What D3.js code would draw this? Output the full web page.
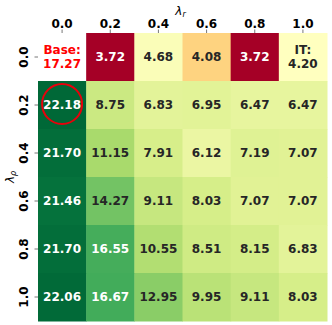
<!DOCTYPE html>
<html>
<head>
<meta charset="utf-8">
<script src="https://cdn.jsdelivr.net/npm/d3@7"></script>
<style>
  body { margin: 0; background: #fff; }
  svg { font-family: "DejaVu Sans", sans-serif; }
</style>
</head>
<body>
<div id="chart"></div>
<script>
const lambdaR = ["0.0", "0.2", "0.4", "0.6", "0.8", "1.0"];
const lambdaRho = ["0.0", "0.2", "0.4", "0.6", "0.8", "1.0"];
const row00 = [null, 3.72, 4.68, 4.08, 3.72, 4.20];
const row02 = [22.18, 8.75, 6.83, 6.95, 6.47, 6.47];
const row04 = [21.70, 11.15, 7.91, 6.12, 7.19, 7.07];
const row06 = [21.46, 14.27, 9.11, 8.03, 7.07, 7.07];
const row08 = [21.70, 16.55, 10.55, 8.51, 8.15, 6.83];
const row10 = [22.06, 16.67, 12.95, 9.95, 9.11, 8.03];
const rows = [row00, row02, row04, row06, row08, row10];
const baseValue = 17.27;
const itValue = 4.20;
const best = { row: 1, col: 0 };

const margin = { top: 33, right: 5, bottom: 4, left: 38 };
const width = 332 - margin.left - margin.right;
const height = 325 - margin.top - margin.bottom;

const x = d3.scaleBand().domain(lambdaR).range([0, width]);
const y = d3.scaleBand().domain(lambdaRho).range([0, height]);

// RdYlGn, two-slope norm centred on the IT score
const rdylgn = d3.piecewise(d3.interpolateRgb, ["#a50026", "#d73027", "#f46d43", "#fdae61", "#fee08b",
  "#ffffbf", "#d9ef8b", "#a6d96a", "#66bd63", "#1a9850", "#006837"]);
const all = rows.flat().filter(v => v != null);
const norm = d3.scaleLinear().domain([d3.min(all), itValue, d3.max(all)]).range([0, 0.5, 1]).clamp(true);
const color = v => rdylgn(norm(v));

function textColor(c) {
  const rgb = d3.rgb(c);
  const lin = v => { v /= 255; return v <= 0.03928 ? v / 12.92 : Math.pow((v + 0.055) / 1.055, 2.4); };
  const lum = 0.2126 * lin(rgb.r) + 0.7152 * lin(rgb.g) + 0.0722 * lin(rgb.b);
  return lum > 0.408 ? "#262626" : "#ffffff";
}

const cells = [];
rows.forEach((r, i) => r.forEach((v, j) => cells.push({ i, j, v })));

const svg = d3.select("#chart").append("svg")
    .attr("width", 332)
    .attr("height", 325)
  .append("g")
    .attr("transform", `translate(${margin.left}, ${margin.top})`);

svg.selectAll(".cell")
  .data(cells.filter(d => d.v != null))
  .join("rect")
    .attr("class", "cell")
    .attr("x", d => x(lambdaR[d.j]))
    .attr("y", d => y(lambdaRho[d.i]))
    .attr("width", x.bandwidth() + 0.5)
    .attr("height", y.bandwidth() + 0.5)
    .attr("fill", d => color(d.v));

const labels = svg.selectAll(".lab")
  .data(cells)
  .join("text")
    .attr("class", "lab")
    .attr("x", d => x(lambdaR[d.j]) + x.bandwidth() / 2)
    .attr("y", d => y(lambdaRho[d.i]) + y.bandwidth() / 2)
    .attr("text-anchor", "middle")
    .attr("font-size", 12)
    .attr("font-weight", "bold");

labels.each(function (d) {
  const t = d3.select(this);
  let lines;
  if (d.v == null) {
    lines = ["Base:", baseValue.toFixed(2)];
    t.attr("fill", "#ff0000");
  } else if (d.i === 0 && d.j === lambdaR.length - 1) {
    lines = ["IT:", d.v.toFixed(2)];
    t.attr("fill", textColor(color(d.v)));
  } else {
    lines = [d.v.toFixed(2)];
    t.attr("fill", textColor(color(d.v)));
  }
  lines.forEach((s, k) => {
    t.append("tspan")
      .attr("x", t.attr("x"))
      .attr("dy", k === 0 ? (lines.length === 1 ? "0.36em" : "-0.22em") : "1.1em")
      .text(s);
  });
});

svg.append("circle")
  .attr("cx", x(lambdaR[best.col]) + x.bandwidth() / 2)
  .attr("cy", y(lambdaRho[best.row]) + y.bandwidth() / 2 - 1)
  .attr("r", 20)
  .attr("fill", "none")
  .attr("stroke", "#e8000b")
  .attr("stroke-width", 2);

const xAxis = svg.append("g")
  .call(d3.axisTop(x).tickSize(3.5).tickPadding(2));
const yAxis = svg.append("g")
  .call(d3.axisLeft(y).tickSize(3.5).tickPadding(2));

[xAxis, yAxis].forEach(a => {
  a.select(".domain").remove();
  a.selectAll(".tick line").attr("stroke", "#555").attr("stroke-width", 0.8);
  a.selectAll(".tick text")
    .attr("font-size", 12)
    .attr("font-weight", "bold")
    .attr("fill", "#000")
    .attr("font-family", "DejaVu Sans, sans-serif");
});

yAxis.selectAll(".tick text")
  .attr("x", null).attr("dy", null)
  .attr("text-anchor", "middle")
  .attr("transform", "translate(-14,0) rotate(-90)")
  .attr("dy", "0.36em");

svg.append("text")
  .attr("x", width / 2 - 2)
  .attr("y", -18)
  .attr("text-anchor", "middle")
  .attr("font-size", 12)
  .attr("font-style", "italic")
  .html("λ<tspan font-size='8' dy='2'>r</tspan>");

svg.append("text")
  .attr("transform", `translate(${-24}, ${height / 2}) rotate(-90)`)
  .attr("text-anchor", "middle")
  .attr("font-size", 12)
  .attr("font-style", "italic")
  .html("λ<tspan font-size='8' dy='2'>ρ</tspan>");
</script>
</body>
</html>
